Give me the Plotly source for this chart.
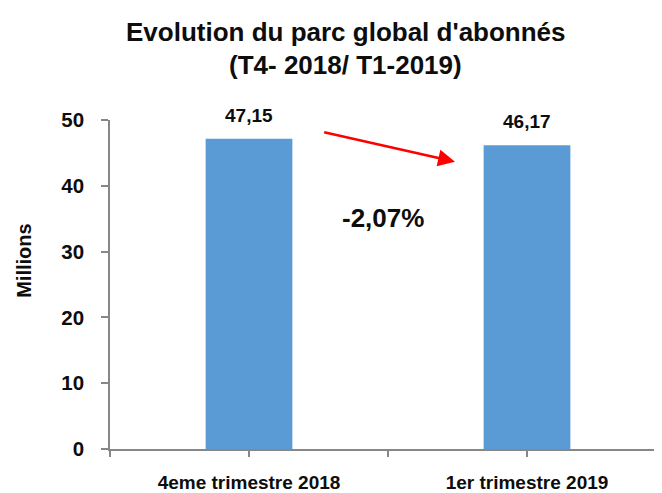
import plotly.graph_objects as go

categories = ["4eme trimestre 2018", "1er trimestre 2019"]
values = [47.15, 46.17]
change_label = "-2,07%"
y_ticks = [0, 10, 20, 30, 40, 50]
title_lines = ["Evolution du parc global d'abonnés", "(T4- 2018/ T1-2019)"]
y_title = "Millions"

FONT = "Liberation Sans, Arial, sans-serif"
NARROW = "Liberation Sans Narrow, Arial Narrow, Liberation Sans, sans-serif"
TXT = "#0d0d0d"
AX = "#878787"
BAR = "#5B9BD5"

xpos = list(range(len(categories)))

fig = go.Figure()
fig.add_trace(go.Bar(x=xpos, y=values, width=0.312, marker=dict(color=BAR, line=dict(width=0)),
                     hoverinfo="skip"))

# data labels
for i, v in zip(xpos, values):
    fig.add_annotation(x=i, y=v, xref="x", yref="y", text=f"{v:.2f}".replace(".", ","),
                       showarrow=False, xanchor="center", yanchor="bottom", yshift=11,
                       font=dict(family=FONT, size=19, color=TXT, weight="bold"))

# arrow
fig.add_annotation(x=0.741, y=43.67, ax=0.265, ay=48.18, xref="x", yref="y", axref="x", ayref="y",
                   text="", showarrow=True, arrowhead=2, arrowsize=1.3, arrowwidth=2.6,
                   arrowcolor="#FF0000")

# change label
fig.add_annotation(x=0.482, y=35.05, xref="x", yref="y", text=change_label, showarrow=False,
                   xanchor="center", yanchor="middle",
                   font=dict(family=FONT, size=26, color=TXT, weight="bold"))

# title lines
fig.add_annotation(x=0.4275, y=1.2686, xref="paper", yref="paper", text=title_lines[0], showarrow=False,
                   xanchor="center", yanchor="middle", font=dict(family=FONT, size=26, color=TXT, weight="bold"))
fig.add_annotation(x=0.4275, y=1.1666, xref="paper", yref="paper", text=title_lines[1], showarrow=False,
                   xanchor="center", yanchor="middle", font=dict(family=FONT, size=26, color=TXT, weight="bold"))

# y title
fig.add_annotation(x=-0.1558, y=0.572, xref="paper", yref="paper", text=y_title, showarrow=False,
                   xanchor="center", yanchor="middle", textangle=-90,
                   font=dict(family=FONT, size=20, color=TXT, weight="bold"))

n = len(categories)
tickvals = []
ticktext = []
for i in range(n):
    tickvals += [i - 0.5, i]
    ticktext += ["", categories[i]]

fig.update_layout(
    width=654, height=485,
    margin=dict(l=102, r=0, t=111.5, b=40.3, pad=0),
    paper_bgcolor="white", plot_bgcolor="white",
    showlegend=False,
    font=dict(family=FONT, color=TXT),
    xaxis=dict(range=[-0.5, n - 0.5 - 4 / 278], tickvals=tickvals, ticktext=ticktext,
               showline=True, linecolor=AX, linewidth=1.5, ticks="outside", ticklen=6,
               tickcolor=AX, tickwidth=1.5, showgrid=False, zeroline=False,
               tickfont=dict(family=FONT, size=19, color=TXT, weight="bold"), ticklabelstandoff=9),
    yaxis=dict(range=[0, 50], tickvals=y_ticks, showline=True, linecolor=AX, linewidth=1.5,
               ticks="outside", ticklen=7, tickcolor=AX, tickwidth=1.5, showgrid=False,
               zeroline=False, tickfont=dict(family=NARROW, size=20.5, color=TXT, weight="bold"),
               ticklabelstandoff=13),
)

fig.write_html("out.html")
